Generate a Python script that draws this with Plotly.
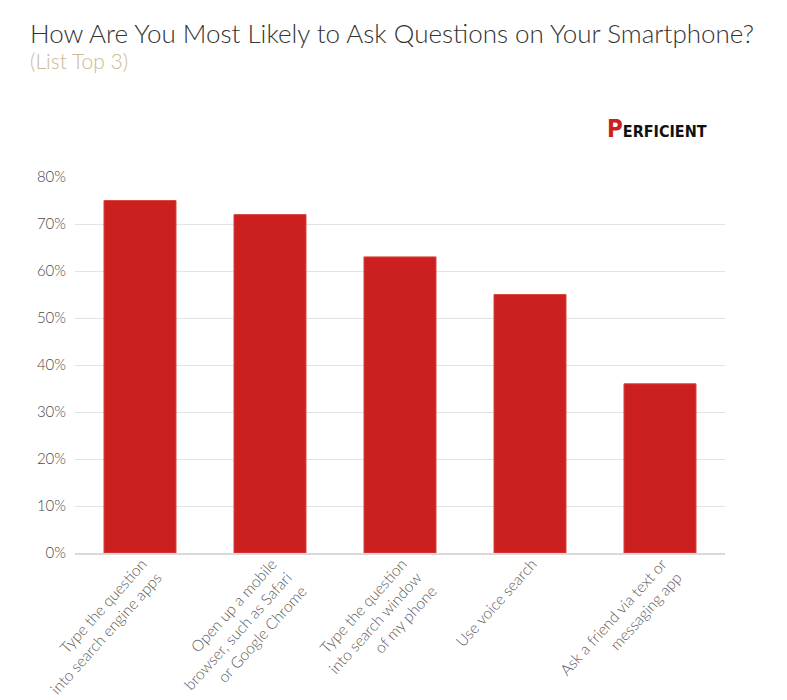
import plotly.graph_objects as go

categories = [
    "Type the question<br>into search engine apps",
    "Open up a mobile<br>browser, such as Safari<br>or Google Chrome",
    "Type the question<br>into search window<br>of my phone",
    "Use voice search",
    "Ask a friend via text or<br>messaging app",
]
shares = [75, 72, 63, 55, 36]
y_ticks = [0, 10, 20, 30, 40, 50, 60, 70, 80]
y_tick_labels = [f"{t}%" for t in y_ticks]

fig = go.Figure(go.Bar(
    x=categories, y=shares,
    marker=dict(color="#cc1f20", line=dict(color="#d9473f", width=1)),
    hoverinfo="skip",
))

# page adds an 8px body margin, so margins are offset to compensate
fig.update_layout(
    width=787, height=700,
    paper_bgcolor="white", plot_bgcolor="white",
    margin=dict(l=67, r=70, t=169, b=155, autoexpand=False),
    bargap=0.446,
    showlegend=False,
    font=dict(family="Lato", color="#666"),
)

fig.update_xaxes(
    tickangle=-48, tickfont=dict(size=15.5, color="#5a5a5a", weight=300),
    showline=True, linecolor="#d9d9d9", linewidth=2,
    ticks="", showgrid=False, automargin=False,
    ticklabelstandoff=-6, ticklabelshift=2,
)
fig.update_yaxes(
    range=[0, 80], tickvals=y_ticks, ticktext=y_tick_labels,
    tickfont=dict(size=15, color="#4a4a4a", weight=300),
    showgrid=True, gridcolor="#e3e3e3", gridwidth=1,
    zeroline=False, ticks="", ticklabelstandoff=8, automargin=False,
)

# title and subtitle
fig.add_annotation(
    xref="paper", yref="paper", x=-0.072, y=1.383, xanchor="left", yanchor="middle",
    text="How Are You Most Likely to Ask Questions on Your Smartphone?",
    showarrow=False, font=dict(family="Lato", size=26, color="#333", weight=300),
)
fig.add_annotation(
    xref="paper", yref="paper", x=-0.072, y=1.309, xanchor="left", yanchor="middle",
    text="(List Top 3)",
    showarrow=False, font=dict(family="Lato", size=21, color="#cdb994", weight=300),
)

# brand mark, top right
fig.add_annotation(
    xref="paper", yref="paper", x=0.975, y=1.128, xanchor="right", yanchor="middle",
    text="<span style='color:#cc1f20;font-size:24px'>P</span>ERFICIENT",
    showarrow=False, font=dict(family="DejaVu Sans Condensed, Roboto", size=16, color="#111", weight=700),
)

fig.write_html("out.html")
